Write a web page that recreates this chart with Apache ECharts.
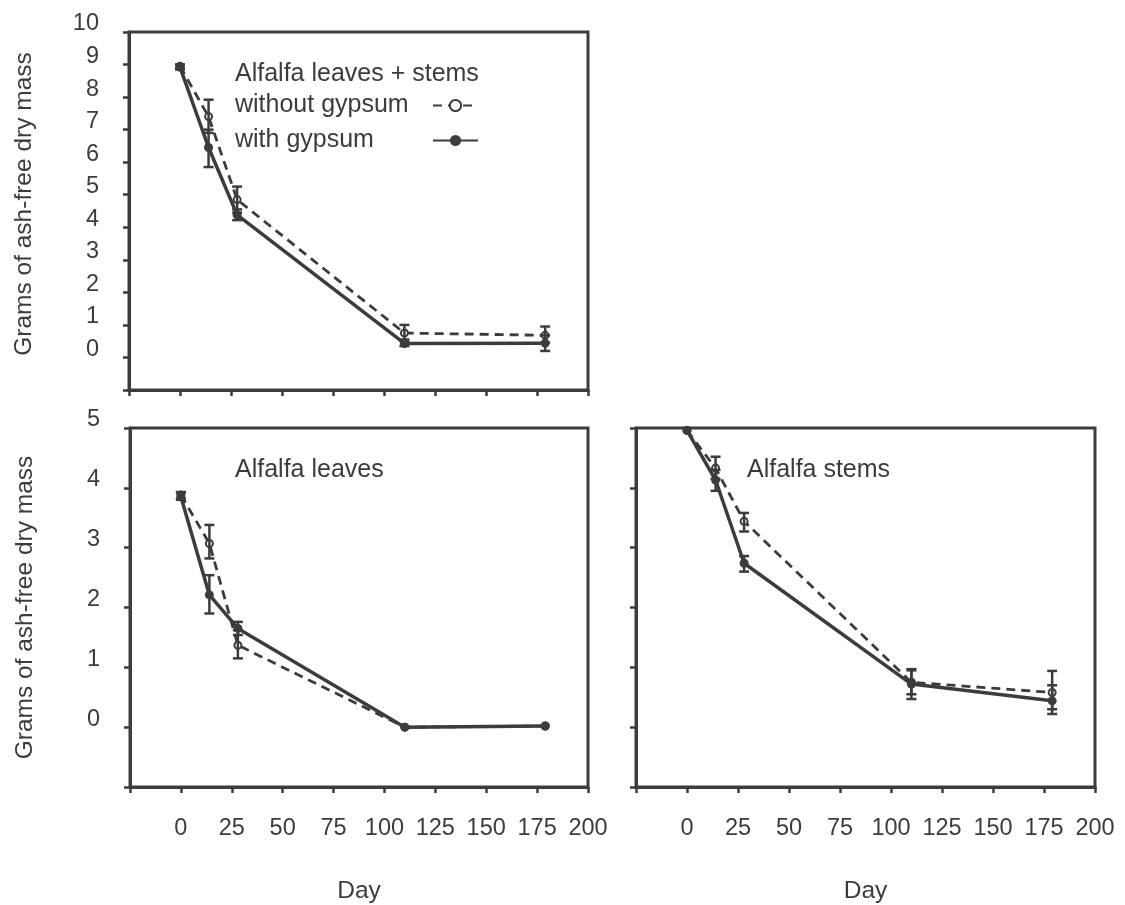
<!DOCTYPE html>
<html>
<head>
<meta charset="utf-8">
<script src="https://cdn.jsdelivr.net/npm/echarts@6/dist/echarts.min.js"></script>
<style>
html,body{margin:0;padding:0;background:#ffffff;}
#chart{width:1125px;height:905px;}
</style>
</head>
<body>
<div id="chart"></div>
<script>
// ---- data ----
const days = [0, 14, 28, 110, 179];

// Alfalfa leaves + stems
const combWithout     = [8.95, 7.40, 4.85, 0.75, 0.68];
const combWithoutLow  = [8.90, 6.90, 4.45, 0.55, 0.45];
const combWithoutHigh = [9.00, 7.92, 5.25, 1.00, 0.95];
const combWith        = [8.92, 6.45, 4.38, 0.43, 0.44];
const combWithLow     = [8.85, 5.85, 4.22, 0.35, 0.20];
const combWithHigh    = [9.00, 7.00, 4.55, 0.50, 0.68];

// Alfalfa leaves
const leavesWithout     = [3.88, 3.07, 1.37, 0.00, 0.02];
const leavesWithoutLow  = [3.82, 2.82, 1.15, 0.00, 0.02];
const leavesWithoutHigh = [3.93, 3.38, 1.62, 0.00, 0.02];
const leavesWith        = [3.85, 2.21, 1.65, 0.00, 0.02];
const leavesWithLow     = [3.80, 1.90, 1.54, 0.00, 0.02];
const leavesWithHigh    = [3.92, 2.54, 1.76, 0.00, 0.02];

// Alfalfa stems
const stemsWithout     = [4.96, 4.33, 3.44, 0.75, 0.58];
const stemsWithoutLow  = [4.96, 4.15, 3.27, 0.55, 0.30];
const stemsWithoutHigh = [4.96, 4.52, 3.58, 0.97, 0.94];
const stemsWith        = [4.96, 4.13, 2.74, 0.72, 0.44];
const stemsWithLow     = [4.96, 3.95, 2.60, 0.47, 0.22];
const stemsWithHigh    = [4.96, 4.30, 2.86, 0.95, 0.70];

const panelTitles = ['Alfalfa leaves + stems', 'Alfalfa leaves', 'Alfalfa stems'];
const seriesNames = ['without gypsum', 'with gypsum'];
const yTitle = 'Grams of ash-free dry mass';
const xTitle = 'Day';

// ---- styling ----
const INK = '#3c3c3c';
const FONT = '"Liberation Sans", Arial, Helvetica, sans-serif';
const LABEL_SIZE = 25;

function textWidth(str, size) {
  const ctx = document.createElement('canvas').getContext('2d');
  ctx.font = size + 'px ' + FONT;
  return ctx.measureText(str).width;
}

function pts(vals) { return days.map((d, i) => [d, vals[i]]); }
function bars(lo, hi) { return days.map((d, i) => [d, lo[i], hi[i]]); }

function errRender(params, api) {
  const x = api.value(0);
  const lo = api.value(1), hi = api.value(2);
  if (hi - lo < 0.03) return null;
  const a = api.coord([x, hi]);
  const b = api.coord([x, lo]);
  const w = 5;
  const st = { stroke: INK, lineWidth: 2.5 };
  return {
    type: 'group',
    children: [
      { type: 'line', shape: { x1: a[0], y1: a[1], x2: b[0], y2: b[1] }, style: st },
      { type: 'line', shape: { x1: a[0] - w, y1: a[1], x2: a[0] + w, y2: a[1] }, style: st },
      { type: 'line', shape: { x1: b[0] - w, y1: b[1], x2: b[0] + w, y2: b[1] }, style: st }
    ]
  };
}

const grids = [
  { left: 129, top: 32, width: 459, height: 358 },
  { left: 130, top: 428, width: 458, height: 359 },
  { left: 636, top: 428, width: 459, height: 360 }
].map(g => Object.assign(g, { show: true, borderColor: INK, borderWidth: 3, backgroundColor: 'transparent', containLabel: false }));

function xAxisCfg(idx, showLabels) {
  return {
    type: 'value', gridIndex: idx, min: -25, max: 200, interval: 25,
    axisLine: { show: true, onZero: false, lineStyle: { color: INK, width: 3 } },
    axisTick: { show: true, inside: false, length: 6, lineStyle: { color: INK, width: 2.5 } },
    splitLine: { show: false },
    axisLabel: {
      show: showLabels, margin: 30, color: INK, fontSize: 23.5, fontFamily: FONT,
      formatter: v => (v < 0 ? '' : String(v))
    },
    name: showLabels ? xTitle : '',
    nameLocation: 'middle', nameGap: 92,
    nameTextStyle: { color: INK, fontSize: 24.5, fontFamily: FONT }
  };
}

function yAxisCfg(idx, max, showLabels, showName, namePadding) {
  return {
    type: 'value', gridIndex: idx, min: -1, max: max, interval: 1,
    axisLine: { show: true, onZero: false, lineStyle: { color: INK, width: 3 } },
    axisTick: { show: true, inside: false, length: 6, lineStyle: { color: INK, width: 2.5 } },
    splitLine: { show: false },
    axisLabel: {
      show: showLabels, margin: 30, color: INK, fontSize: 23.5, fontFamily: FONT,
      verticalAlign: 'bottom', lineHeight: 16,
      formatter: v => (v < 0 ? '' : String(v))
    },
    name: showName ? yTitle : '',
    nameLocation: 'middle', nameGap: 92, nameRotate: 90,
    nameTextStyle: { color: INK, fontSize: 24.5, fontFamily: FONT, padding: namePadding }
  };
}

function lineSeries(idx, name, vals) {
  const dashed = name === seriesNames[0];
  return {
    type: 'line', name: name, xAxisIndex: idx, yAxisIndex: idx,
    data: pts(vals),
    symbol: dashed ? 'emptyCircle' : 'circle',
    symbolSize: dashed ? 7 : 9,
    itemStyle: { color: INK, borderColor: INK, borderWidth: dashed ? 2 : 0 },
    lineStyle: { color: INK, width: dashed ? 2.8 : 3.5, type: dashed ? [9, 6] : 'solid' },
    z: dashed ? 3 : 4, silent: true, animation: false
  };
}

function errSeries(idx, name, lo, hi) {
  return {
    type: 'custom', name: name + ' error', xAxisIndex: idx, yAxisIndex: idx,
    data: bars(lo, hi), encode: { x: 0, y: [1, 2] },
    renderItem: errRender, silent: true, z: 5, animation: false
  };
}

// legend: text left-aligned in a 193px column, sample line to its right
const LEGEND_TEXT_COL = 193;
const titleStyle = { color: INK, fontSize: LABEL_SIZE, fontWeight: 'normal', lineHeight: 24, fontFamily: FONT };

const option = {
  backgroundColor: '#ffffff',
  animation: false,
  textStyle: { fontFamily: FONT },
  grid: grids,
  xAxis: [xAxisCfg(0, false), xAxisCfg(1, true), xAxisCfg(2, true)],
  yAxis: [
    yAxisCfg(0, 10, true, true, [0, 0, 0, 14]),
    yAxisCfg(1, 5, true, true, [0, 0, 0, 0]),
    yAxisCfg(2, 5, false, false, [0, 0, 0, 0])
  ],
  title: [
    { text: panelTitles[0], left: 235, top: 62, padding: 0, textStyle: titleStyle },
    { text: panelTitles[1], left: 235, top: 458, padding: 0, textStyle: titleStyle },
    { text: panelTitles[2], left: 747, top: 458, padding: 0, textStyle: titleStyle }
  ],
  legend: {
    data: seriesNames.map(n => ({
      name: n,
      textStyle: { padding: [0, Math.max(0, LEGEND_TEXT_COL - textWidth(n, LABEL_SIZE)), 0, 0] }
    })),
    left: 235, top: 93, padding: 0,
    orient: 'vertical', align: 'right', selectedMode: false,
    itemWidth: 45, itemHeight: 14, itemGap: 10,
    textStyle: { color: INK, fontSize: LABEL_SIZE, lineHeight: 24, fontFamily: FONT }
  },
  series: [
    lineSeries(0, seriesNames[0], combWithout),
    lineSeries(0, seriesNames[1], combWith),
    errSeries(0, seriesNames[0], combWithoutLow, combWithoutHigh),
    errSeries(0, seriesNames[1], combWithLow, combWithHigh),
    lineSeries(1, seriesNames[0], leavesWithout),
    lineSeries(1, seriesNames[1], leavesWith),
    errSeries(1, seriesNames[0], leavesWithoutLow, leavesWithoutHigh),
    errSeries(1, seriesNames[1], leavesWithLow, leavesWithHigh),
    lineSeries(2, seriesNames[0], stemsWithout),
    lineSeries(2, seriesNames[1], stemsWith),
    errSeries(2, seriesNames[0], stemsWithoutLow, stemsWithoutHigh),
    errSeries(2, seriesNames[1], stemsWithLow, stemsWithHigh)
  ]
};

const chart = echarts.init(document.getElementById('chart'), null, { renderer: 'canvas' });
chart.setOption(option);
</script>
</body>
</html>
